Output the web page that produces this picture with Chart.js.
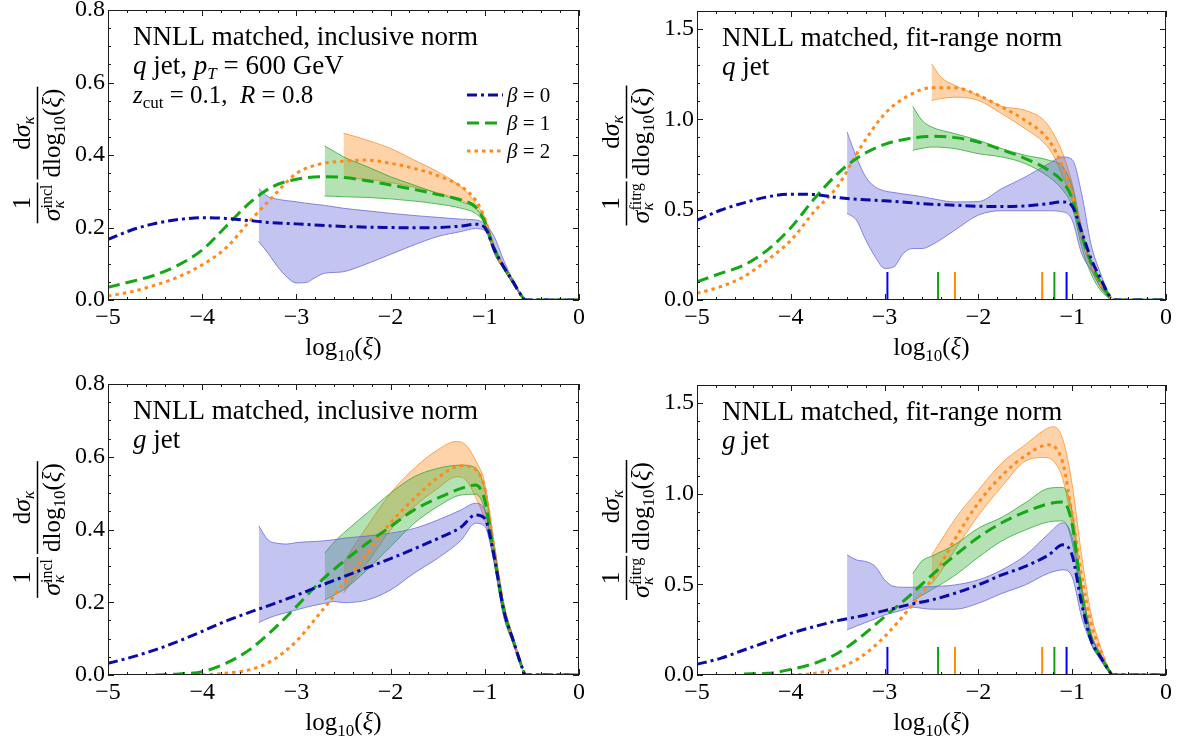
<!DOCTYPE html>
<html>
<head>
<meta charset="utf-8">
<script src="https://cdn.jsdelivr.net/npm/chart.js@4.4.1/dist/chart.umd.min.js"></script>
<style>
  html, body { margin: 0; padding: 0; background: #fff; }
  #wrap { position: relative; width: 1178px; height: 744px; }
  canvas { position: absolute; }
</style>
</head>
<body>
<div id="wrap">
  <canvas id="qIncl" width="589" height="372" style="left:0;top:0"></canvas>
  <canvas id="qFit" width="589" height="372" style="left:589px;top:0"></canvas>
  <canvas id="gIncl" width="589" height="370" style="left:0;top:374px"></canvas>
  <canvas id="gFit" width="589" height="370" style="left:589px;top:374px"></canvas>
</div>
<script>
// x grid of the central curves and of the uncertainty bands
const X_LINE = [-5,-4.75,-4.5,-4.25,-4,-3.75,-3.5,-3.25,-3,-2.75,-2.5,-2.25,-2,-1.75,-1.5,-1.25,-1.1,-1.0,-0.9,-0.8,-0.7,-0.6,-0.57,-0.4,-0.2,0];
const X_BAND_B0 = [-3.4,-3.3,-3.2,-3.1,-3.0,-2.9,-2.8,-2.7,-2.6,-2.5,-2.25,-2.0,-1.75,-1.5,-1.25,-1.1,-1.0,-0.9,-0.8,-0.7,-0.6];
const X_BAND_B1 = [-2.7,-2.6,-2.5,-2.25,-2.0,-1.75,-1.5,-1.25,-1.1,-1.0,-0.9,-0.8,-0.7,-0.6];
const X_BAND_B2 = [-2.5,-2.4,-2.25,-2.0,-1.75,-1.5,-1.3,-1.2,-1.1,-1.0,-0.9,-0.8,-0.7,-0.6];

const BETAS = [0, 1, 2];
// fit range edges per beta (fit-range norm panels)
const FIT_LO = [-2.97, -2.43, -2.25];
const FIT_HI = [-1.06, -1.19, -1.32];
const FIT_MARK_H = 0.155;

// q jet, inclusive norm
const Q_INCL_B0 = [0.167,0.193,0.211,0.222,0.227,0.225,0.219,0.213,0.21,0.206,0.203,0.201,0.2,0.199,0.2,0.204,0.209,0.2,0.14,0.092,0.05,0.008,0,0,0,0];
const Q_INCL_B1 = [0.035,0.051,0.069,0.097,0.138,0.202,0.267,0.313,0.333,0.34,0.338,0.329,0.317,0.305,0.291,0.276,0.257,0.215,0.14,0.092,0.05,0.008,0,0,0,0];
const Q_INCL_B2 = [0.011,0.023,0.041,0.064,0.097,0.143,0.216,0.285,0.349,0.375,0.383,0.386,0.377,0.363,0.343,0.313,0.276,0.225,0.14,0.092,0.05,0.008,0,0,0,0];
const Q_INCL_B0_HI = [0.308,0.285,0.278,0.274,0.271,0.267,0.264,0.261,0.257,0.253,0.246,0.239,0.233,0.228,0.223,0.221,0.21,0.175,0.11,0.055,0.008];
const Q_INCL_B0_LO = [0.161,0.129,0.092,0.063,0.047,0.048,0.062,0.074,0.076,0.078,0.1,0.126,0.152,0.175,0.189,0.197,0.192,0.13,0.085,0.045,0.005];
const Q_INCL_B1_HI = [0.425,0.41,0.395,0.368,0.34,0.317,0.294,0.271,0.253,0.222,0.15,0.095,0.052,0.008];
const Q_INCL_B1_LO = [0.287,0.286,0.285,0.283,0.279,0.273,0.265,0.253,0.239,0.21,0.13,0.085,0.045,0.005];
const Q_INCL_B2_HI = [0.46,0.453,0.441,0.418,0.386,0.354,0.322,0.3,0.267,0.228,0.15,0.097,0.053,0.008];
const Q_INCL_B2_LO = [0.336,0.335,0.333,0.324,0.311,0.296,0.28,0.27,0.253,0.215,0.13,0.085,0.045,0.005];

// q jet, fit-range norm
const Q_FIT_B0 = [0.442,0.497,0.538,0.571,0.586,0.584,0.567,0.556,0.549,0.54,0.53,0.525,0.519,0.517,0.521,0.534,0.543,0.52,0.38,0.23,0.12,0.02,0,0,0,0];
const Q_FIT_B1 = [0.101,0.147,0.193,0.276,0.4,0.56,0.7,0.8,0.862,0.893,0.906,0.899,0.875,0.832,0.783,0.718,0.654,0.56,0.36,0.21,0.1,0.02,0,0,0,0];
const Q_FIT_B2 = [0.037,0.074,0.129,0.221,0.33,0.49,0.63,0.85,1.03,1.13,1.175,1.175,1.133,1.068,0.994,0.884,0.737,0.589,0.368,0.2,0.09,0.02,0,0,0,0];
const Q_FIT_B0_HI = [0.93,0.79,0.68,0.626,0.604,0.595,0.587,0.58,0.572,0.562,0.543,0.545,0.617,0.681,0.755,0.792,0.777,0.59,0.31,0.15,0.02];
const Q_FIT_B0_LO = [0.479,0.442,0.331,0.239,0.175,0.184,0.258,0.285,0.285,0.304,0.387,0.47,0.494,0.494,0.494,0.488,0.442,0.258,0.166,0.074,0.005];
const Q_FIT_B1_HI = [1.072,0.994,0.958,0.921,0.884,0.838,0.801,0.774,0.737,0.626,0.387,0.184,0.074,0.01];
const Q_FIT_B1_LO = [0.829,0.84,0.847,0.838,0.81,0.792,0.755,0.681,0.608,0.516,0.295,0.147,0.055,0.005];
const Q_FIT_B2_HI = [1.308,1.234,1.188,1.133,1.072,1.05,0.994,0.921,0.81,0.645,0.405,0.221,0.092,0.01];
const Q_FIT_B2_LO = [1.105,1.115,1.123,1.105,1.031,0.948,0.87,0.8,0.681,0.552,0.331,0.184,0.074,0.005];

// g jet, inclusive norm
const G_INCL_B0 = [0.032,0.049,0.069,0.093,0.12,0.148,0.172,0.195,0.219,0.245,0.27,0.295,0.32,0.347,0.375,0.407,0.44,0.43,0.325,0.179,0.096,0.018,0,0,0,0];
const G_INCL_B1 = [null,null,0,0.003,0.009,0.032,0.069,0.124,0.188,0.256,0.312,0.362,0.408,0.454,0.486,0.513,0.522,0.48,0.325,0.179,0.096,0.018,0,0,0,0];
const G_INCL_B2 = [null,null,null,null,0,0.005,0.014,0.041,0.093,0.17,0.25,0.335,0.418,0.485,0.542,0.575,0.565,0.51,0.344,0.188,0.096,0.018,0,0,0,0];
const G_INCL_B0_HI = [0.41,0.371,0.362,0.36,0.364,0.366,0.367,0.369,0.372,0.376,0.382,0.39,0.403,0.426,0.454,0.472,0.454,0.344,0.197,0.105,0.018];
const G_INCL_B0_LO = [0.144,0.156,0.165,0.172,0.179,0.186,0.192,0.197,0.202,0.199,0.206,0.234,0.28,0.321,0.371,0.417,0.408,0.307,0.16,0.087,0.016];
const G_INCL_B1_HI = [0.335,0.365,0.39,0.445,0.5,0.545,0.568,0.577,0.57,0.509,0.353,0.197,0.096,0.018];
const G_INCL_B1_LO = [0.206,0.22,0.234,0.289,0.353,0.417,0.463,0.495,0.497,0.454,0.307,0.17,0.087,0.016];
const G_INCL_B2_HI = [0.307,0.35,0.408,0.5,0.568,0.619,0.642,0.632,0.591,0.527,0.362,0.197,0.096,0.018];
const G_INCL_B2_LO = [0.225,0.26,0.307,0.399,0.463,0.513,0.545,0.536,0.49,0.426,0.316,0.17,0.087,0.016];

// g jet, fit-range norm
const G_FIT_B0 = [0.059,0.092,0.138,0.184,0.23,0.267,0.3,0.326,0.355,0.387,0.414,0.451,0.497,0.552,0.599,0.663,0.718,0.66,0.396,0.193,0.101,0.018,0,0,0,0];
const G_FIT_B1 = [null,null,0.006,0.009,0.031,0.064,0.12,0.212,0.322,0.43,0.55,0.66,0.76,0.84,0.9,0.945,0.955,0.83,0.45,0.2,0.101,0.018,0,0,0,0];
const G_FIT_B2 = [null,null,null,null,0,0.009,0.037,0.101,0.212,0.359,0.525,0.75,0.95,1.1,1.21,1.27,1.17,0.88,0.55,0.285,0.138,0.018,0,0,0,0];
const G_FIT_B0_HI = [0.663,0.635,0.626,0.599,0.525,0.488,0.484,0.484,0.486,0.488,0.497,0.525,0.58,0.66,0.78,0.84,0.76,0.47,0.23,0.12,0.018];
const G_FIT_B0_LO = [0.249,0.27,0.29,0.31,0.331,0.345,0.36,0.374,0.368,0.363,0.363,0.396,0.45,0.497,0.562,0.58,0.54,0.32,0.175,0.083,0.013];
const G_FIT_B1_HI = [0.56,0.63,0.655,0.72,0.81,0.87,0.95,1.03,1.035,0.9,0.5,0.23,0.11,0.018];
const G_FIT_B1_LO = [0.41,0.44,0.47,0.55,0.65,0.74,0.8,0.845,0.85,0.73,0.4,0.175,0.09,0.013];
const G_FIT_B2_HI = [0.66,0.74,0.86,1.02,1.17,1.27,1.35,1.37,1.3,1.05,0.66,0.34,0.16,0.018];
const G_FIT_B2_LO = [0.5,0.57,0.69,0.88,1.04,1.18,1.2,1.18,1.08,0.82,0.47,0.23,0.1,0.013];

const SERIF = '"Liberation Serif", "DejaVu Serif", serif';
const R = s => s + 'px ' + SERIF;
const I = s => 'italic ' + s + 'px ' + SERIF;

const LINE_COL = ['#0a0aa6', '#14a814', '#ff8a1c'];
const LINE_DASH = [[10, 4, 3, 4], [12, 6], [3.5, 4]];
const MARK_COL = ['#0000ff', '#10a010', '#ff8c00'];
const BAND_FILL = ['rgba(100,100,215,0.38)', 'rgba(60,180,60,0.38)', 'rgba(255,150,50,0.42)'];
const BAND_EDGE = ['rgba(100,100,215,0.75)', 'rgba(50,170,50,0.8)', 'rgba(250,150,60,0.85)'];
const BAND_X = [X_BAND_B0, X_BAND_B1, X_BAND_B2];

const isMult = (v, m) => Math.abs(v / m - Math.round(v / m)) < 1e-6;
const pts = (xs, ys) => xs.map((x, i) => ({x: x, y: ys[i]})).filter(p => p.y !== null);

function runsWidth(ctx, runs) {
  let w = 0;
  for (const r of runs) {
    ctx.font = r[1];
    let rw = ctx.measureText(r[0]).width;
    if (r.length > 3) { ctx.font = r[4]; rw = Math.max(rw, ctx.measureText(r[3]).width); }
    w += rw;
  }
  return w;
}

function drawRuns(ctx, runs, x, y, align) {
  let cx = align === 'center' ? x - runsWidth(ctx, runs) / 2 : x;
  for (const r of runs) {
    ctx.font = r[1];
    ctx.fillText(r[0], cx, y + (r[2] || 0));
    let rw = ctx.measureText(r[0]).width;
    if (r.length > 3) {
      ctx.font = r[4];
      ctx.fillText(r[3], cx, y + r[5]);
      rw = Math.max(rw, ctx.measureText(r[3]).width);
    }
    cx += rw;
  }
}

function drawYTitle(ctx, a, sup) {
  const n1 = [['1', R(25)]];
  const d1 = [['σ', I(26)], ['κ', I(17), 4.5, sup, R(16), -8]];
  const n2 = [['d', R(25)], ['σ', I(26)], ['κ', I(17), 4.5]];
  const d2 = [['dlog', R(25)], ['10', R(17), 5.5], ['(', R(25)], ['ξ', I(25)], [')', R(25)]];
  const len1 = Math.max(runsWidth(ctx, n1), runsWidth(ctx, d1)) + 4;
  const len2 = Math.max(runsWidth(ctx, n2), runsWidth(ctx, d2)) + 4;
  const gap = 3;
  const u0 = -(len1 + gap + len2) / 2;
  ctx.save();
  ctx.translate(37.5, (a.top + a.bottom) / 2);
  ctx.rotate(-Math.PI / 2);
  ctx.fillRect(u0, -0.75, len1, 1.5);
  drawRuns(ctx, n1, u0 + len1 / 2, -8, 'center');
  drawRuns(ctx, d1, u0 + len1 / 2, 22, 'center');
  const u1 = u0 + len1 + gap;
  ctx.fillRect(u1, -0.75, len2, 1.5);
  drawRuns(ctx, n2, u1 + len2 / 2, -8, 'center');
  drawRuns(ctx, d2, u1 + len2 / 2, 22, 'center');
  ctx.restore();
}

const deco = {
  id: 'deco',
  afterDatasetsDraw(chart, args, o) {
    const {ctx, chartArea: a, scales} = chart;
    const x = scales.x, y = scales.y;
    ctx.save();
    ctx.strokeStyle = '#1c1c1c';
    ctx.lineWidth = 1;
    ctx.strokeRect(a.left + 0.5, a.top + 0.5, a.right - a.left - 1, a.bottom - a.top - 1);
    ctx.beginPath();
    x.ticks.forEach(t => {
      const px = Math.round(x.getPixelForValue(t.value)) + 0.5;
      const len = isMult(t.value, 1) ? 6 : 3;
      ctx.moveTo(px, a.bottom); ctx.lineTo(px, a.bottom - len);
      ctx.moveTo(px, a.top); ctx.lineTo(px, a.top + len);
    });
    y.ticks.forEach(t => {
      const py = Math.round(y.getPixelForValue(t.value)) + 0.5;
      const len = isMult(t.value, o.yMajor) ? 6 : 3;
      ctx.moveTo(a.left, py); ctx.lineTo(a.left + len, py);
      ctx.moveTo(a.right, py); ctx.lineTo(a.right - len, py);
    });
    ctx.stroke();
    ctx.restore();
  },
  afterDraw(chart, args, o) {
    const {ctx, chartArea: a} = chart;
    ctx.save();
    ctx.fillStyle = '#000';
    ctx.textAlign = 'left';
    ctx.textBaseline = 'alphabetic';
    // annotation text
    o.text.forEach((runs, i) => drawRuns(ctx, runs, a.left + 25, a.top + 35 + i * 29));
    // axis titles
    drawRuns(ctx, [['log', R(25)], ['10', R(17), 5.5], ['(', R(25)], ['ξ', I(25)], [')', R(25)]],
      (a.left + a.right) / 2, a.bottom + 55, 'center');
    drawYTitle(ctx, a, o.sup);
    // legend
    if (o.legend) {
      BETAS.forEach((b, i) => {
        const yy = a.top + 85 + i * 28;
        ctx.save();
        ctx.strokeStyle = LINE_COL[i];
        ctx.lineWidth = 3;
        ctx.setLineDash(LINE_DASH[i]);
        ctx.beginPath();
        ctx.moveTo(a.right - 112, yy); ctx.lineTo(a.right - 76, yy);
        ctx.stroke();
        ctx.restore();
        drawRuns(ctx, [['β', I(21)], [' = ' + b, R(21)]], a.right - 72, yy + 7);
      });
    }
    ctx.restore();
  }
};

function makeChart(p) {
  const datasets = [];
  if (p.markers) {
    BETAS.forEach((b, i) => {
      [FIT_LO[i], FIT_HI[i]].forEach(fx => datasets.push({
        data: [{x: fx, y: 0}, {x: fx, y: FIT_MARK_H}],
        borderColor: MARK_COL[i], borderWidth: 2, pointRadius: 0, fill: false
      }));
    });
  }
  p.lines.forEach((ys, i) => datasets.push({
    data: pts(X_LINE, ys),
    borderColor: LINE_COL[i], borderWidth: 3, borderDash: LINE_DASH[i],
    pointRadius: 0, fill: false, cubicInterpolationMode: 'monotone'
  }));
  p.bands.forEach((hl, i) => {
    datasets.push({
      data: pts(BAND_X[i], hl[0]), borderColor: BAND_EDGE[i], borderWidth: 1,
      backgroundColor: BAND_FILL[i], fill: '+1', pointRadius: 0, cubicInterpolationMode: 'monotone'
    });
    datasets.push({
      data: pts(BAND_X[i], hl[1]), borderColor: BAND_EDGE[i], borderWidth: 1,
      fill: false, pointRadius: 0, cubicInterpolationMode: 'monotone'
    });
  });

  const canvas = document.getElementById(p.id);
  return new Chart(canvas, {
    type: 'line',
    data: {datasets: datasets},
    plugins: [deco],
    options: {
      responsive: false,
      animation: false,
      devicePixelRatio: 1,
      layout: {padding: {top: p.top, right: p.right, left: 0, bottom: 0}},
      plugins: {
        legend: {display: false},
        tooltip: {enabled: false},
        deco: {text: p.text, sup: p.sup, legend: p.legend, yMajor: p.yMajor}
      },
      scales: {
        x: {
          type: 'linear', min: -5, max: 0,
          grid: {display: false, drawTicks: false}, border: {display: false},
          ticks: {
            stepSize: 0.2, autoSkip: false, maxRotation: 0, minRotation: 0, maxTicksLimit: 100,
            padding: 3, color: '#000', font: {family: SERIF, size: 24},
            callback: v => isMult(v, 1) ? (v < -1e-9 ? '\u2212' + Math.abs(Math.round(v)) : '0') : ''
          },
          afterFit: s => { s.height = canvas.height - p.bottom; s.paddingLeft = 0; s.paddingRight = 0; }
        },
        y: {
          type: 'linear', min: 0, max: p.yMax,
          grid: {display: false, drawTicks: false}, border: {display: false},
          ticks: {
            stepSize: p.yMinor, autoSkip: false, maxTicksLimit: 100,
            padding: 3, color: '#000', font: {family: SERIF, size: 24},
            callback: v => isMult(v, p.yMajor) ? v.toFixed(1) : ''
          },
          afterFit: s => { s.width = 108; s.paddingTop = 0; s.paddingBottom = 0; }
        }
      }
    }
  });
}

const TITLE_INCL = [['NNLL matched, inclusive norm', R(27)]];
const TITLE_FIT = [['NNLL matched, fit-range norm', R(27)]];

makeChart({
  id: 'qIncl', top: 10, right: 10, bottom: 300, yMax: 0.8, yMinor: 0.05, yMajor: 0.2, sup: 'incl',
  legend: true, markers: false,
  text: [TITLE_INCL,
    [['q', I(27)], [' jet, ', R(27)], ['p', I(27)], ['T', I(17), 5], [' = 600 GeV', R(27)]],
    [['z', I(25)], ['cut', R(17), 5], [' = 0.1,  ', R(25)], ['R', I(25)], [' = 0.8', R(25)]]],
  lines: [Q_INCL_B0, Q_INCL_B1, Q_INCL_B2],
  bands: [[Q_INCL_B0_HI, Q_INCL_B0_LO], [Q_INCL_B1_HI, Q_INCL_B1_LO], [Q_INCL_B2_HI, Q_INCL_B2_LO]]
});
makeChart({
  id: 'qFit', top: 11, right: 12, bottom: 300, yMax: 1.6, yMinor: 0.1, yMajor: 0.5, sup: 'fitrg',
  legend: false, markers: true,
  text: [TITLE_FIT, [['q', I(27)], [' jet', R(27)]]],
  lines: [Q_FIT_B0, Q_FIT_B1, Q_FIT_B2],
  bands: [[Q_FIT_B0_HI, Q_FIT_B0_LO], [Q_FIT_B1_HI, Q_FIT_B1_LO], [Q_FIT_B2_HI, Q_FIT_B2_LO]]
});
makeChart({
  id: 'gIncl', top: 10, right: 10, bottom: 301, yMax: 0.8, yMinor: 0.05, yMajor: 0.2, sup: 'incl',
  legend: false, markers: false,
  text: [TITLE_INCL, [['g', I(27)], [' jet', R(27)]]],
  lines: [G_INCL_B0, G_INCL_B1, G_INCL_B2],
  bands: [[G_INCL_B0_HI, G_INCL_B0_LO], [G_INCL_B1_HI, G_INCL_B1_LO], [G_INCL_B2_HI, G_INCL_B2_LO]]
});
makeChart({
  id: 'gFit', top: 11, right: 12, bottom: 301, yMax: 1.6, yMinor: 0.1, yMajor: 0.5, sup: 'fitrg',
  legend: false, markers: true,
  text: [TITLE_FIT, [['g', I(27)], [' jet', R(27)]]],
  lines: [G_FIT_B0, G_FIT_B1, G_FIT_B2],
  bands: [[G_FIT_B0_HI, G_FIT_B0_LO], [G_FIT_B1_HI, G_FIT_B1_LO], [G_FIT_B2_HI, G_FIT_B2_LO]]
});
</script>
</body>
</html>
